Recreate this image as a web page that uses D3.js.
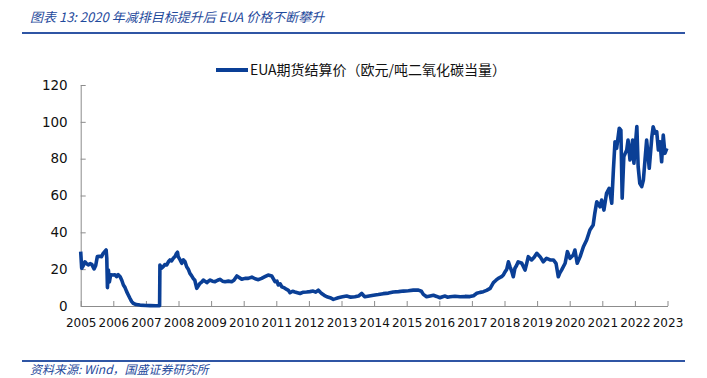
<!DOCTYPE html>
<html>
<head>
<meta charset="utf-8">
<script src="https://cdn.jsdelivr.net/npm/d3@7"></script>
<style>
  body { margin: 0; background: #fff; }
  svg { display: block; }
</style>
</head>
<body>
<svg id="chart" width="707" height="378"></svg>
<script>
// values (x = position in years, y = EUR/t)
const dates = [
  2005.00, 2005.03, 2005.08, 2005.13, 2005.18, 2005.23, 2005.29, 2005.34, 2005.41, 2005.46,
  2005.51, 2005.57, 2005.64, 2005.69, 2005.78, 2005.80, 2005.82, 2005.85, 2005.88, 2005.92,
  2006.00, 2006.05, 2006.10, 2006.15, 2006.21, 2006.26, 2006.31, 2006.36, 2006.41, 2006.46,
  2006.51, 2006.56, 2006.61, 2006.70, 2006.82, 2007.00, 2007.13, 2007.30, 2007.42, 2007.43,
  2007.48, 2007.53, 2007.58, 2007.64, 2007.69, 2007.74, 2007.79, 2007.84, 2007.90, 2007.94,
  2007.97, 2007.99, 2008.05, 2008.10, 2008.15, 2008.20, 2008.25, 2008.30, 2008.35, 2008.40,
  2008.45, 2008.50, 2008.56, 2008.61, 2008.66, 2008.71, 2008.76, 2008.81, 2008.87, 2008.92,
  2008.97, 2009.04, 2009.12, 2009.20, 2009.27, 2009.35, 2009.43, 2009.53, 2009.63, 2009.70,
  2009.79, 2009.86, 2009.94, 2010.04, 2010.14, 2010.25, 2010.35, 2010.45, 2010.55, 2010.65,
  2010.75, 2010.86, 2010.92, 2010.96, 2011.02, 2011.06, 2011.12, 2011.17, 2011.25, 2011.32,
  2011.37, 2011.42, 2011.50, 2011.57, 2011.65, 2011.73, 2011.83, 2011.93, 2012.03, 2012.13,
  2012.21, 2012.29, 2012.35, 2012.39, 2012.47, 2012.55, 2012.65, 2012.75, 2012.82, 2012.90,
  2013.03, 2013.16, 2013.28, 2013.41, 2013.52, 2013.62, 2013.67, 2013.72, 2013.85, 2013.98,
  2014.13, 2014.28, 2014.44, 2014.59, 2014.75, 2014.90, 2015.05, 2015.20, 2015.36, 2015.45,
  2015.51, 2015.61, 2015.72, 2015.82, 2015.92, 2016.02, 2016.10, 2016.18, 2016.25, 2016.33,
  2016.48, 2016.64, 2016.79, 2016.94, 2017.05, 2017.15, 2017.25, 2017.35, 2017.45, 2017.56,
  2017.66, 2017.74, 2017.81, 2017.91, 2017.97, 2018.02, 2018.07, 2018.12, 2018.17, 2018.22,
  2018.27, 2018.32, 2018.37, 2018.42, 2018.53, 2018.63, 2018.68, 2018.73, 2018.83, 2018.91,
  2018.99, 2019.09, 2019.19, 2019.29, 2019.40, 2019.50, 2019.58, 2019.65, 2019.70, 2019.75,
  2019.86, 2019.93, 2020.01, 2020.11, 2020.16, 2020.23, 2020.32, 2020.42, 2020.52, 2020.62,
  2020.72, 2020.77, 2020.83, 2020.93, 2020.98, 2021.05, 2021.13, 2021.21, 2021.29, 2021.34,
  2021.39, 2021.44, 2021.52, 2021.57, 2021.61, 2021.66, 2021.75, 2021.79, 2021.85, 2021.93,
  2021.97, 2022.06, 2022.10, 2022.15, 2022.21, 2022.26, 2022.31, 2022.36, 2022.44, 2022.52,
  2022.56, 2022.62, 2022.67, 2022.72, 2022.77, 2022.82, 2022.87, 2022.92, 2022.98
];
const prices = [
  29.5, 20.5, 22, 24, 23, 22.3, 23, 22.6, 20.1, 22,
  26.8, 27, 26.8, 28.6, 30.4, 26, 10, 19.5, 13, 17,
  16.8, 17, 15.9, 17, 15.9, 14, 11.4, 10, 7.8, 6,
  4.2, 2.5, 1.5, 0.8, 0.5, 0.3, 0.2, 0.1, 0.1, 22.3,
  20.5, 21.3, 22.5, 22.3, 24, 25, 24.5, 25.9, 27, 28.6,
  29.2, 26.8, 25, 23.2, 25, 24, 21.3, 20, 17.7, 16.5,
  15, 14, 9.6, 11, 12.3, 13, 14.1, 13.5, 12.7, 13.5,
  14.1, 13.5, 13.2, 14, 14.5, 13.5, 13.2, 13.5, 13.2, 14,
  16.3, 15.5, 14.5, 15, 15, 15.7, 14.8, 14.3, 15, 15.9,
  16.8, 16.3, 14.5, 13.2, 13.5, 11.4, 12, 10.4, 9.8, 9,
  8.5, 7.2, 8, 7.6, 7.2, 6.8, 7.5, 7.6, 7.8, 8.1,
  7.5, 8.6, 7.5, 6.8, 5.8, 5, 4.5, 3.6, 4, 4.5,
  5, 5.4, 4.8, 5, 5.4, 6.8, 5.8, 5, 5.4, 5.8,
  6.2, 6.7, 7, 7.6, 7.8, 8.1, 8.3, 8.6, 8.6, 8,
  6.3, 5, 5.4, 5.8, 5.2, 4.5, 5, 5.4, 4.8, 5,
  5.3, 5, 5.2, 5.1, 5.6, 6.9, 7.4, 7.8, 8.5, 9.6,
  12.7, 14, 15, 15.9, 17, 18.6, 20, 24, 21.3, 19,
  15.9, 20.5, 22, 24, 23.2, 19.5, 23, 26.8, 25, 26.5,
  28.6, 26.8, 24, 25.9, 25, 25, 23.2, 15.9, 18, 19.5,
  23.2, 29.5, 25.9, 27.7, 30.4, 23.2, 26.8, 32.2, 35.8, 41.3,
  44, 50.3, 56.6, 53.9, 57.5, 52.1, 61.2, 63.9, 55.8, 73.8,
  89.2, 85.6, 96.5, 95.5, 58.5, 81.1, 84.7, 90.1, 79.3, 90.1,
  77.5, 97.5, 75.6, 66.6, 64.8, 68.4, 79.3, 90.1, 74.8, 91.9,
  97.3, 93.8, 94.6, 84.7, 89.2, 78.3, 92.8, 82.9, 85.6
];
const yearTicks = d3.range(2005, 2024);
const valueTicks = [0, 20, 40, 60, 80, 100, 120];
const seriesName = 'EUA期货结算价（欧元/吨二氧化碳当量）';
const titleText = '图表 13:  2020 年减排目标提升后 EUA 价格不断攀升';
const sourceText = '资料来源:  Wind，国盛证券研究所';

const svg = d3.select('#chart');
const plotLeft = 80.7, plotRight = 667.5, plotTop = 85, plotBottom = 306;
const lineColor = '#0a3f96';
const axisColor = '#8c8c8c';
const labelFont = '"DejaVu Sans", Verdana, sans-serif';
const cjkFont = '"Noto Sans CJK SC", sans-serif';

const x = d3.scaleLinear().domain([2005, 2023]).range([plotLeft, plotRight]);
const y = d3.scaleLinear().domain([0, 120]).range([plotBottom, plotTop]);

// header / footer
svg.append('text')
  .attr('x', 30).attr('y', 22)
  .attr('font-family', cjkFont)
  .attr('font-size', 13)
  .attr('font-style', 'italic')
  .attr('fill', '#1f4a9c')
  .text(titleText);
svg.append('line')
  .attr('x1', 22).attr('x2', 685).attr('y1', 33).attr('y2', 33)
  .attr('stroke', '#2f55a4').attr('stroke-width', 2);
svg.append('line')
  .attr('x1', 22).attr('x2', 685).attr('y1', 361).attr('y2', 361)
  .attr('stroke', '#2f55a4').attr('stroke-width', 2);
svg.append('text')
  .attr('x', 30).attr('y', 374)
  .attr('font-family', cjkFont)
  .attr('font-size', 12)
  .attr('font-style', 'italic')
  .attr('fill', '#1f4a9c')
  .text(sourceText);

// axes
let xAxis = svg.append('g')
  .attr('transform', 'translate(0,' + plotBottom + ')')
  .call(d3.axisBottom(x).tickValues(yearTicks).tickFormat(d3.format('d')).tickSizeInner(-5).tickSizeOuter(0).tickPadding(12));
let yAxis = svg.append('g')
  .attr('transform', 'translate(' + plotLeft + ',0)')
  .call(d3.axisLeft(y).tickValues(valueTicks).tickSizeInner(-5).tickSizeOuter(0).tickPadding(13));

[xAxis, yAxis].forEach(function(g) {
  g.select('.domain').attr('stroke', axisColor);
  g.selectAll('.tick line').attr('stroke', axisColor);
  g.selectAll('.tick text')
    .attr('font-family', labelFont)
    .attr('font-size', 12)
    .attr('fill', '#111');
});
yAxis.selectAll('.tick text').attr('font-size', 13.5);

// series
let points = dates.map(function(d, i) { return [d, prices[i]]; });
let line = d3.line()
  .x(function(d) { return x(d[0]); })
  .y(function(d) { return y(d[1]); });

svg.append('path')
  .datum(points)
  .attr('d', line)
  .attr('fill', 'none')
  .attr('stroke', lineColor)
  .attr('stroke-width', 3.6)
  .attr('stroke-linejoin', 'round');

// legend
let legend = svg.append('g').attr('transform', 'translate(216,70)');
legend.append('line')
  .attr('x1', 0).attr('x2', 32).attr('y1', 0).attr('y2', 0)
  .attr('stroke', lineColor).attr('stroke-width', 4);
legend.append('text')
  .attr('x', 34).attr('y', 5)
  .attr('font-family', cjkFont)
  .attr('font-size', 14)
  .attr('fill', '#111')
  .text(seriesName);
</script>
</body>
</html>
